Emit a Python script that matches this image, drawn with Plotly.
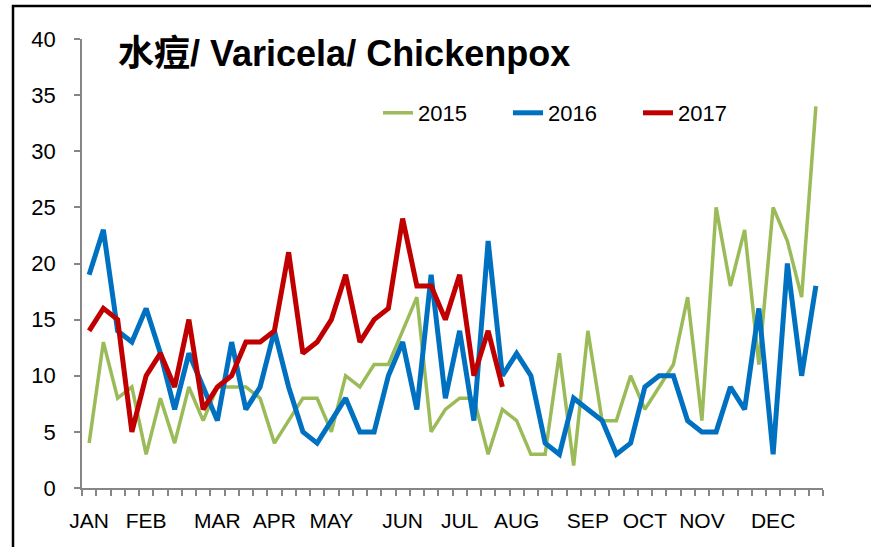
import plotly.graph_objects as go

weeks = list(range(1, 53))
month_pos = [1, 5, 10, 14, 18, 23, 27, 31, 36, 40, 44, 49]
month_labels = ["JAN", "FEB", "MAR", "APR", "MAY", "JUN", "JUL", "AUG", "SEP", "OCT", "NOV", "DEC"]

cases_2015 = [4, 13, 8, 9, 3, 8, 4, 9, 6, 9, 9, 9, 8, 4, 6, 8, 8, 5, 10, 9, 11, 11, 14, 17, 5, 7,
              8, 8, 3, 7, 6, 3, 3, 12, 2, 14, 6, 6, 10, 7, 9, 11, 17, 6, 25, 18, 23, 11, 25, 22, 17, 34]
cases_2016 = [19, 23, 14, 13, 16, 12, 7, 12, 9, 6, 13, 7, 9, 14, 9, 5, 4, 6, 8, 5, 5, 10, 13, 7, 19, 8,
              14, 6, 22, 10, 12, 10, 4, 3, 8, 7, 6, 3, 4, 9, 10, 10, 6, 5, 5, 9, 7, 16, 3, 20, 10, 18]
cases_2017 = [14, 16, 15, 5, 10, 12, 9, 15, 7, 9, 10, 13, 13, 14, 21, 12, 13, 15, 19, 13, 15, 16, 24,
              18, 18, 15, 19, 10, 14, 9]

FONT = "Liberation Sans, Arial, sans-serif"
AXIS_GRAY = "#868686"

fig = go.Figure()
fig.add_trace(go.Scatter(x=weeks, y=cases_2015, mode="lines", name="2015",
                         line=dict(color="#9BBB59", width=3.5)))
fig.add_trace(go.Scatter(x=weeks, y=cases_2016, mode="lines", name="2016",
                         line=dict(color="#0070C0", width=5)))
fig.add_trace(go.Scatter(x=weeks[:len(cases_2017)], y=cases_2017, mode="lines", name="2017",
                         line=dict(color="#C00000", width=5)))

W, H = 871, 547
L, R, T, B = 82, 48, 39, 59
pw, ph = W - L - R, H - T - B

def px_x(x):
    return (x - L) / pw

def px_y(y):
    return (H - B - y) / ph

fig.update_layout(
    width=W, height=H,
    margin=dict(l=L, r=R, t=T, b=B, pad=0),
    paper_bgcolor="white", plot_bgcolor="white",
    font=dict(family=FONT, color="black", size=20),
    showlegend=True,
    legend=dict(orientation="h", x=px_x(378), xanchor="left", y=px_y(113), yanchor="middle",
                font=dict(size=22, family=FONT), bgcolor="rgba(0,0,0,0)",
                entrywidth=85, itemwidth=30),
    annotations=[dict(text="<b>水痘/ Varicela/ Chickenpox</b>", xref="paper", yref="paper",
                      x=px_x(116), y=px_y(54), xanchor="left", yanchor="middle", showarrow=False,
                      font=dict(size=36, family="Liberation Sans, Noto Sans CJK SC, sans-serif",
                                color="black"))],
    shapes=[dict(type="rect", xref="paper", yref="paper",
                 x0=px_x(13), x1=px_x(900), y0=px_y(600), y1=px_y(6),
                 line=dict(color="black", width=2.5), fillcolor="rgba(0,0,0,0)", layer="below")],
)

fig.update_xaxes(
    range=[0.5, 52.5], tickmode="array", tickvals=month_pos, ticktext=month_labels,
    ticks="", showline=True, linecolor=AXIS_GRAY, linewidth=1.5, showgrid=False, zeroline=False,
    tickfont=dict(size=21), ticklabelstandoff=13,
    minor=dict(tickmode="array", tickvals=[w + 0.5 for w in range(0, 53)], ticks="outside",
               ticklen=6, tickcolor=AXIS_GRAY, tickwidth=1.5, showgrid=False),
)
fig.update_yaxes(
    range=[0, 40], dtick=5, tick0=0, ticks="outside", ticklen=6, tickcolor=AXIS_GRAY, tickwidth=1.5,
    showline=True, linecolor=AXIS_GRAY, linewidth=1.5, showgrid=False, zeroline=False,
    tickfont=dict(size=22), ticklabelstandoff=14,
)

fig.write_html("out.html", config={"displayModeBar": False},
               post_script="document.body.style.margin='0';")
